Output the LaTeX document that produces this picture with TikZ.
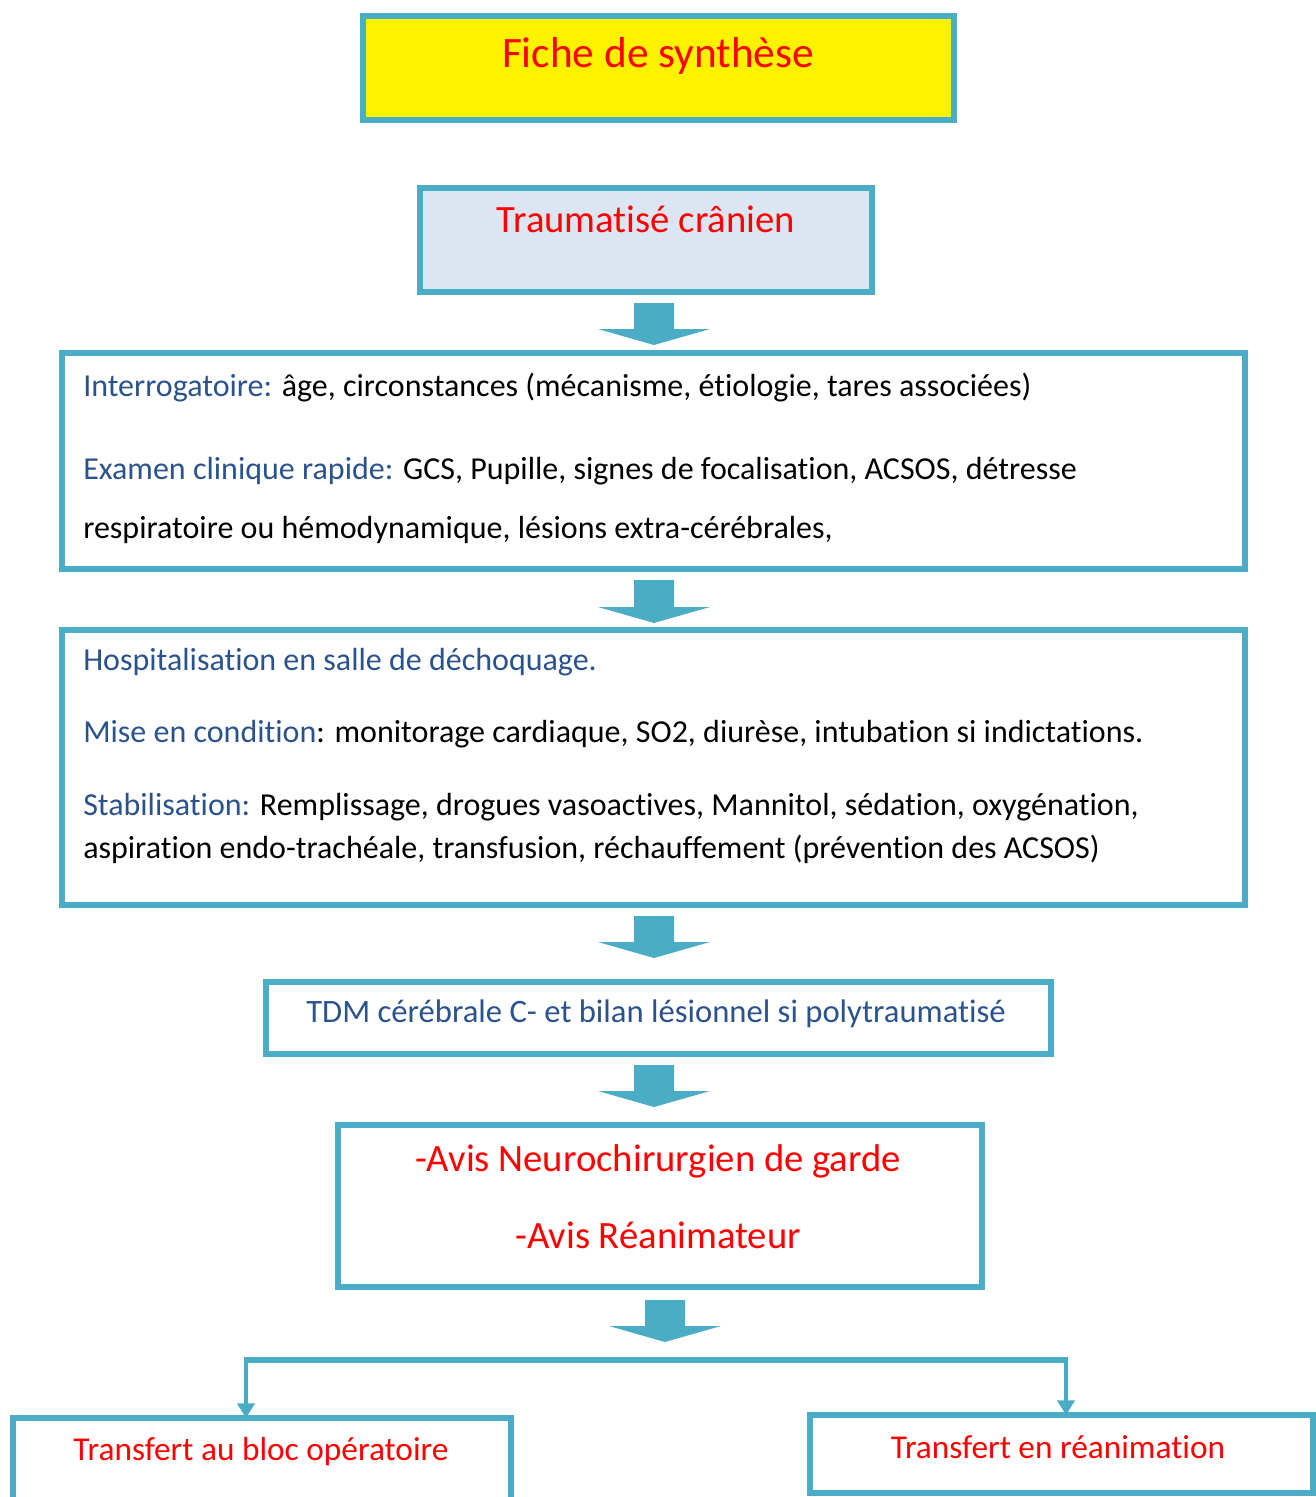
\documentclass[tikz,border=0pt]{standalone}
\usepackage{fontspec}
\setmainfont{Carlito}[Ligatures={CommonOff,ContextualOff}]
\usetikzlibrary{arrows.meta}
\definecolor{frame}{HTML}{4BACC6}
\definecolor{head}{HTML}{2A528C}
\definecolor{pale}{HTML}{DCE6F2}

% rectangle node given by the corners of its border line (pixel units)
\newcommand\panel[6]{%
  \node[#6, minimum width={(#4-#2)*0.75pt}, minimum height={(#5-#3)*0.75pt}]
    (#1) at ({(#2+#4)/2},{(#3+#5)/2}) {};}
% wide block arrow: centre x, top y, tip y
\newcommand\blockarrow[3]{%
  \fill[frame] ({#1-20},#2) -- ({#1+20},#2) -- ({#1+20},{#3-16}) -- ({#1+56},{#3-16})
    -- (#1,#3) -- ({#1-56},{#3-16}) -- ({#1-20},{#3-16}) -- cycle;}

\begin{document}
\begin{tikzpicture}[x=0.75pt,y=-0.75pt,
  box/.style={draw=frame, line width=4.5pt, inner sep=0pt, outer sep=0pt},
  body/.style={anchor=base west, inner sep=0pt, font=\fontsize{24}{28}\selectfont},
  title/.style={anchor=base, inner sep=0pt, text=red, font=\fontsize{29}{33}\selectfont},
  branch/.style={draw=frame, line width=2.4pt, -{Triangle[width=13pt,length=11pt]}}]
\useasboundingbox (0,0) rectangle (1316,1497);
\clip (0,0) rectangle (1316,1497);

% boxes
\panel{b1}{363}{16}{954}{120}{box, fill=yellow}
\panel{b2}{420}{188}{872}{292}{box, fill=pale}
\panel{b3}{62}{353}{1245}{569}{box}
\panel{b4}{62}{630}{1245}{905}{box}
\panel{b5}{266}{982}{1051}{1054}{box}
\panel{b6}{338}{1125}{982}{1287}{box}
\panel{b7}{13}{1418}{511}{1560}{box}
\panel{b8}{810}{1415}{1313}{1493}{box}

% texts
\node[title, font=\fontsize{32.5}{36}\selectfont] (t1) at (658,67) {Fiche de synthèse};
\node[title] (t2) at (646,232) {Traumatisé crânien};

\node[body] (l1) at (83,396) {\textcolor{head}{Interrogatoire:} âge, circonstances (mécanisme, étiologie, tares associées)};
\node[body] (l2) at (83,479) {\textcolor{head}{Examen clinique rapide:} GCS, Pupille, signes de focalisation, ACSOS, détresse};
\node[body] (l3) at (83,538) {respiratoire ou hémodynamique, lésions extra-cérébrales,};

\node[body, text=head] (l4) at (83,670) {Hospitalisation en salle de déchoquage.};
\node[body] (l5) at (83,742) {\textcolor{head}{Mise en condition}: monitorage cardiaque, SO2, diurèse, intubation si indictations.};
\node[body] (l6) at (83,815) {\textcolor{head}{Stabilisation:} Remplissage, drogues vasoactives, Mannitol, sédation, oxygénation,};
\node[body] (l7) at (83,858) {aspiration endo-trachéale, transfusion, réchauffement (prévention des ACSOS)};

\node[body, anchor=base, text=head, font=\fontsize{24.5}{28}\selectfont] (t5) at (656,1022) {TDM cérébrale C- et bilan lésionnel si polytraumatisé};

\node[title] (t6a) at (658,1171) {-Avis Neurochirurgien de garde};
\node[title] (t6b) at (658,1248) {-Avis Réanimateur};

\node[title, font=\fontsize{25}{29}\selectfont] (t7) at (261,1460) {Transfert au bloc opératoire};
\node[title, font=\fontsize{25}{29}\selectfont] (t8) at (1058,1458) {Transfert en réanimation};

% block arrows between the stages
\blockarrow{654}{303}{345}
\blockarrow{654}{580}{623}
\blockarrow{654}{916}{958}
\blockarrow{654}{1065}{1107}
\blockarrow{665}{1300}{1342}

% branching to the two transfers
\coordinate (fl) at (246,1360);
\coordinate (fr) at (1066,1360);
\draw[frame, line width=4.5pt] ([xshift=-1.2pt]fl) -- ([xshift=1.2pt]fr);
\draw[branch] (fl) -- (fl |- b7.north);
\draw[branch] (fr) -- (fr |- b8.north);
\end{tikzpicture}
\end{document}
